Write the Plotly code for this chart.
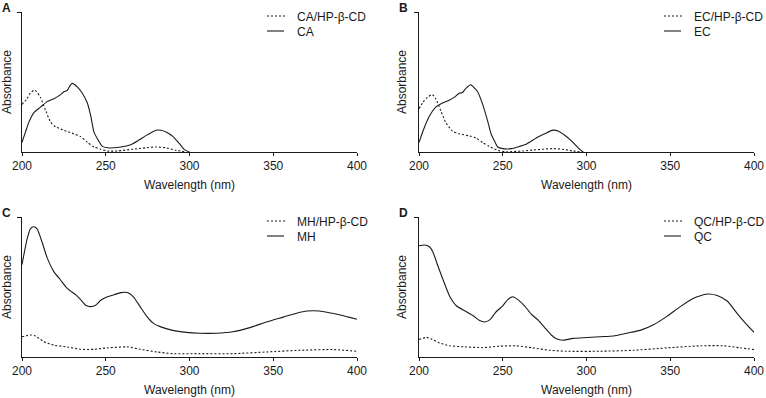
import plotly.graph_objects as go

# panel A - CA
ca_x = [200, 202, 204, 207, 211, 215, 219, 223, 225, 227, 229, 230, 233, 236, 239, 241, 243, 245, 248, 251, 255, 259, 264, 269, 275, 280, 283, 286, 290, 294, 297, 300]
ca_y = [0.07, 0.14, 0.21, 0.28, 0.32, 0.36, 0.38, 0.41, 0.43, 0.44, 0.48, 0.49, 0.465, 0.42, 0.35, 0.26, 0.14, 0.095, 0.04, 0.03, 0.03, 0.036, 0.048, 0.079, 0.124, 0.155, 0.155, 0.143, 0.112, 0.06, 0.017, 0.0]
ca_cd_x = [200, 203, 205, 207, 208, 211, 214, 217, 220, 225, 231, 235, 239, 243, 247, 251, 257, 266, 274, 280, 286, 292, 298]
ca_cd_y = [0.34, 0.38, 0.42, 0.44, 0.44, 0.39, 0.30, 0.215, 0.18, 0.155, 0.13, 0.11, 0.07, 0.036, 0.02, 0.007, 0.007, 0.02, 0.03, 0.036, 0.03, 0.012, 0.0]

# panel B - EC
ec_x = [200, 202.4, 206.4, 210, 214, 218, 221, 224, 226, 228, 231, 232, 235, 238, 241, 243, 245, 247, 250, 255, 260, 264, 270, 275, 280, 283, 287, 291, 295, 298]
ec_y = [0.067, 0.15, 0.26, 0.32, 0.35, 0.37, 0.39, 0.42, 0.425, 0.455, 0.48, 0.47, 0.43, 0.34, 0.22, 0.13, 0.08, 0.036, 0.024, 0.024, 0.04, 0.055, 0.1, 0.13, 0.156, 0.15, 0.12, 0.08, 0.03, 0.0]
ec_cd_x = [200, 202.4, 205, 208, 210, 213, 216, 220, 224, 230, 234, 238, 242, 247, 252, 262, 268, 274, 280, 286, 292, 298]
ec_cd_y = [0.31, 0.355, 0.39, 0.41, 0.38, 0.295, 0.21, 0.15, 0.13, 0.115, 0.1, 0.067, 0.04, 0.012, 0.002, 0.007, 0.014, 0.02, 0.024, 0.019, 0.007, 0.0]

# panel C - MH
mh_x = [200, 203, 205, 207, 209, 212, 215, 219, 223, 227, 232, 235, 238, 241, 244, 247, 251, 255, 259, 263, 266.5, 270.5, 274.5, 278.5, 282.5, 290, 298, 306, 316, 326, 336, 346, 356, 366, 374, 382, 390, 400]
mh_y = [0.66, 0.84, 0.915, 0.93, 0.915, 0.82, 0.71, 0.61, 0.55, 0.49, 0.445, 0.41, 0.37, 0.36, 0.37, 0.405, 0.43, 0.445, 0.46, 0.46, 0.43, 0.36, 0.29, 0.24, 0.217, 0.19, 0.176, 0.17, 0.17, 0.18, 0.21, 0.25, 0.285, 0.32, 0.33, 0.32, 0.30, 0.27]
mh_cd_x = [200, 205, 208, 213, 219, 227, 235, 243, 251, 263, 270.5, 280.5, 290, 306, 326, 346, 366, 386, 400]
mh_cd_y = [0.145, 0.157, 0.15, 0.11, 0.084, 0.072, 0.055, 0.055, 0.065, 0.072, 0.055, 0.036, 0.024, 0.024, 0.024, 0.036, 0.048, 0.053, 0.041]

# panel D - QC
qc_x = [200, 203.4, 206.4, 208.4, 211.3, 214.3, 218.3, 222.3, 227.3, 232.2, 236.2, 239.2, 242.2, 246.2, 250, 253, 256, 259, 263, 267, 271, 275, 279, 282, 286, 292, 298, 308, 316, 324, 332, 340, 348, 356, 364, 372, 378, 384, 390, 395, 400]
qc_y = [0.795, 0.80, 0.786, 0.747, 0.65, 0.554, 0.434, 0.366, 0.33, 0.296, 0.26, 0.25, 0.265, 0.325, 0.366, 0.41, 0.43, 0.41, 0.366, 0.306, 0.265, 0.21, 0.157, 0.13, 0.12, 0.133, 0.137, 0.145, 0.15, 0.17, 0.19, 0.23, 0.29, 0.36, 0.42, 0.45, 0.44, 0.40, 0.31, 0.24, 0.176]
qc_cd_x = [200, 204.4, 207.4, 212.3, 218.3, 228, 238, 248, 258, 268, 278, 288, 308, 328, 348, 368, 382, 392, 400]
qc_cd_y = [0.125, 0.14, 0.128, 0.10, 0.08, 0.072, 0.067, 0.077, 0.08, 0.065, 0.048, 0.041, 0.041, 0.048, 0.065, 0.08, 0.08, 0.065, 0.053]

panels = [
    ("A", "CA", ca_cd_x, ca_cd_y, ca_x, ca_y),
    ("B", "EC", ec_cd_x, ec_cd_y, ec_x, ec_y),
    ("C", "MH", mh_cd_x, mh_cd_y, mh_x, mh_y),
    ("D", "QC", qc_cd_x, qc_cd_y, qc_x, qc_y),
]

W, H = 766, 398
xoff = [0, 397]   # left edge offset of each column, px
yoff = [0, 205]   # top offset of each row, px
FONT = "Arial, Liberation Sans, sans-serif"
INK = "#1a1a1a"
DOT = "2px,2px"


def px(x):
    return x / W


def py(y):
    return 1 - y / H


fig = go.Figure()
layout = {}
annotations = []
shapes = []
for i, (letter, name, dx, dy, sx, sy) in enumerate(panels):
    col, row = i % 2, i // 2
    ox, oy = xoff[col], yoff[row]
    n = "" if i == 0 else str(i + 1)
    fig.add_trace(go.Scatter(x=dx, y=dy, mode="lines", name=name + "/HP-β-CD", showlegend=False,
                             line=dict(color=INK, width=1.1, dash=DOT, shape="spline", smoothing=0.6),
                             xaxis="x" + n, yaxis="y" + n))
    fig.add_trace(go.Scatter(x=sx, y=sy, mode="lines", name=name, showlegend=False,
                             line=dict(color=INK, width=1.1, shape="spline", smoothing=0.6),
                             xaxis="x" + n, yaxis="y" + n))
    layout["xaxis" + n] = dict(domain=[px(22 + ox), px(357 + ox)], anchor="y" + n, range=[200, 400],
                               tickvals=[200, 250, 300, 350, 400], ticks="outside", ticklen=3,
                               tickcolor=INK, showline=True, linecolor=INK, linewidth=1,
                               showgrid=False, zeroline=False, automargin=False,
                               tickfont=dict(size=12, color=INK, family=FONT),
                               title=dict(text="Wavelength (nm)", font=dict(size=12, color=INK, family=FONT), standoff=8))
    layout["yaxis" + n] = dict(domain=[py(152 + oy), py(12 + oy)], anchor="x" + n, range=[0, 1],
                               tickvals=[1], ticktext=[""], ticks="outside", ticklen=4,
                               tickcolor=INK, showline=True, linecolor=INK, linewidth=1,
                               showgrid=False, zeroline=False, automargin=False,
                               title=dict(text="Absorbance", font=dict(size=12, color=INK, family=FONT), standoff=2))
    # panel letter
    annotations.append(dict(text="<b>" + letter + "</b>", x=px(ox), y=py(8 + oy),
                            xref="paper", yref="paper", xanchor="left", yanchor="middle", showarrow=False,
                            font=dict(size=12, color=INK, family=FONT)))
    # legend
    for k, (lab, dash, y0, x1) in enumerate([(name + "/HP-β-CD", DOT, 16, 286), (name, "solid", 31, 284)]):
        shapes.append(dict(type="line", xref="paper", yref="paper",
                           x0=px(267 + ox), x1=px(x1 + ox), y0=py(y0 + oy), y1=py(y0 + oy),
                           line=dict(color=INK, width=1.1, dash=dash)))
        annotations.append(dict(text=lab, x=px(295 + ox), y=py(y0 + 1 + oy), xref="paper", yref="paper",
                                xanchor="left", yanchor="middle", showarrow=False,
                                font=dict(size=12, color=INK, family=FONT)))

fig.update_layout(**layout)
fig.update_layout(width=W, height=H, margin=dict(l=0, r=0, t=0, b=0),
                  plot_bgcolor="white", paper_bgcolor="white",
                  annotations=annotations, shapes=shapes, showlegend=False)
fig.write_html("out.html", config={"displayModeBar": False},
               post_script="document.body.style.margin='0';")
